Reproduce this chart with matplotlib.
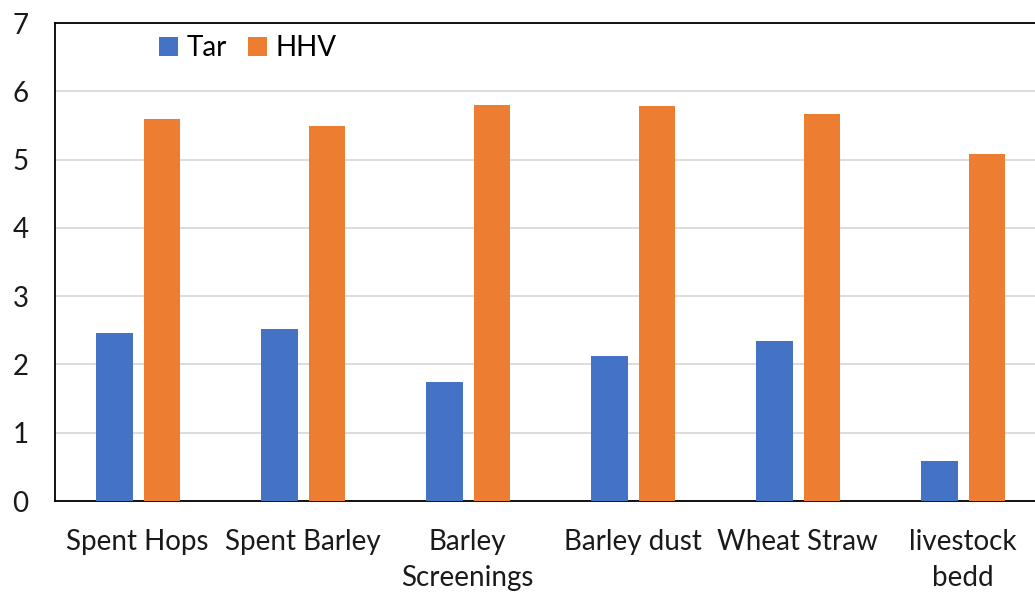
import numpy as np
from matplotlib import pyplot as plt

plt.rcParams['font.family'] = ['Lato', 'DejaVu Sans']

categories = ['Spent Hops', 'Spent Barley', 'Barley\nScreenings', 'Barley dust', 'Wheat Straw', 'livestock\nbedd']
tar = [2.46, 2.52, 1.74, 2.12, 2.34, 0.59]
hhv = [5.59, 5.49, 5.80, 5.78, 5.67, 5.08]

W, H = 1035, 594
fig = plt.figure(figsize=(W / 100, H / 100), dpi=100)
# plot area runs a little past the right edge, as in the reference
ax = fig.add_axes([55 / W, 93 / H, 990 / W, 478 / H])

x = np.arange(len(categories))
bw = 0.22
ax.bar(x - 0.14, tar, bw, color='#4472C4', label='Tar', zorder=3)
ax.bar(x + 0.15, hhv, bw, color='#ED7D31', label='HHV', zorder=3)

ax.set_xlim(-0.5, 5.5)
ax.set_ylim(0, 7)
ax.set_yticks(range(8))
ax.set_xticks(x)
ax.set_xticklabels(categories, linespacing=1.5)
ax.tick_params(axis='both', length=0, labelsize=20, colors='#1a1a1a')
ax.tick_params(axis='y', pad=19)
ax.tick_params(axis='x', pad=20)
ax.grid(axis='y', color='#d9d9d9', linewidth=1.3, zorder=0)
for s in ['left', 'top', 'bottom']:
    ax.spines[s].set_color('black')
    ax.spines[s].set_linewidth(1.3)
ax.spines['right'].set_visible(False)

ax.legend(loc='center left', bbox_to_anchor=(134 / W, 1 - 48 / H), bbox_transform=fig.transFigure,
          ncol=2, frameon=False, fontsize=20, handlelength=0.7, handleheight=0.7,
          handletextpad=0.3, columnspacing=0.75)

fig.savefig('out.png', dpi=100)
